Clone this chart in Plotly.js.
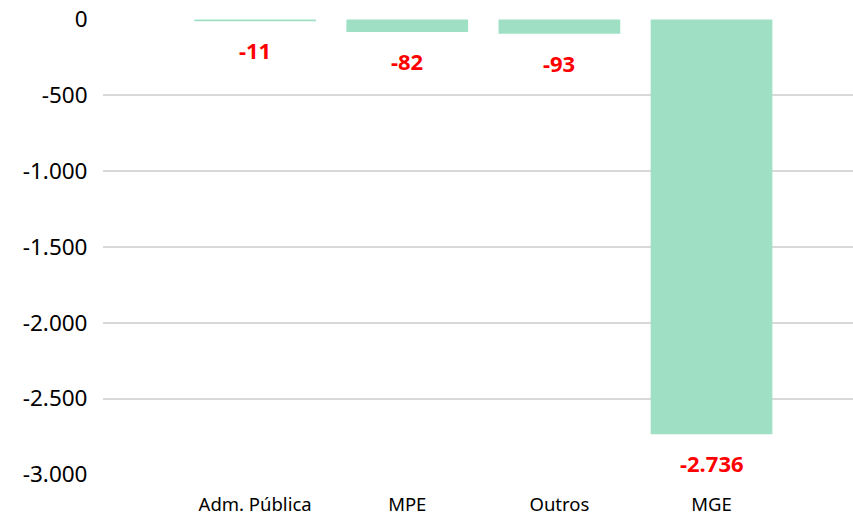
<!DOCTYPE html>
<html>
<head>
<meta charset="utf-8">
<script src="https://cdn.plot.ly/plotly-3.0.1.min.js"></script>
<style>
  body { margin: 0; background: #ffffff; }
  #chart { width: 853px; height: 517px; }
</style>
</head>
<body>
<div id="chart"></div>
<script>
const categories = ['Adm. Pública', 'MPE', 'Outros', 'MGE'];
const values = [-11, -82, -93, -2736];
const yTickVals = [0, -500, -1000, -1500, -2000, -2500, -3000];
const yTickText = ['0', '-500', '-1.000', '-1.500', '-2.000', '-2.500', '-3.000'];

const barColor = '#9fe0c5';
const labelColor = '#ff0000';
const fontFamily = 'Noto Sans, Open Sans, sans-serif';

function fmtPt(v) {
    // thousands with a dot, like the source
    return String(v).replace(/\B(?=(\d{3})+(?!\d))/g, '.');
}

const trace = {
    x: categories,
    y: values,
    type: 'bar',
    marker: { color: barColor, line: { width: 0 } },
    hoverinfo: 'x+y'
};

const labels = categories.map((c, i) => ({
    x: c,
    y: values[i],
    xref: 'x',
    yref: 'y',
    text: '<b>' + fmtPt(values[i]) + '</b>',
    showarrow: false,
    yanchor: 'top',
    yshift: -12,
    font: { family: fontFamily, size: 22, color: labelColor }
}));

const layout = {
    width: 853,
    height: 517,
    margin: { l: 103, r: 0, t: 19, b: 42 },
    paper_bgcolor: '#ffffff',
    plot_bgcolor: '#ffffff',
    bargap: 0.2,
    showlegend: false,
    font: { family: fontFamily, color: '#000000' },
    xaxis: {
        type: 'category',
        range: [-1, 3.93],
        showgrid: false,
        zeroline: false,
        showline: false,
        ticks: 'outside',
        ticklen: 13,
        tickcolor: 'rgba(0,0,0,0)',
        tickfont: { family: fontFamily, size: 18.5, color: '#000000' },
        fixedrange: true
    },
    yaxis: {
        range: [-3004, 4],
        tickvals: yTickVals,
        ticktext: yTickText,
        showgrid: true,
        gridcolor: '#d9d9d9',
        gridwidth: 2,
        zeroline: false,
        showline: false,
        ticks: 'outside',
        ticklen: 10,
        tickcolor: 'rgba(0,0,0,0)',
        tickfont: { family: fontFamily, size: 22.5, color: '#000000' },
        fixedrange: true
    },
    annotations: labels
};

Plotly.newPlot('chart', [trace], layout, { displayModeBar: false, staticPlot: true });
</script>
</body>
</html>
